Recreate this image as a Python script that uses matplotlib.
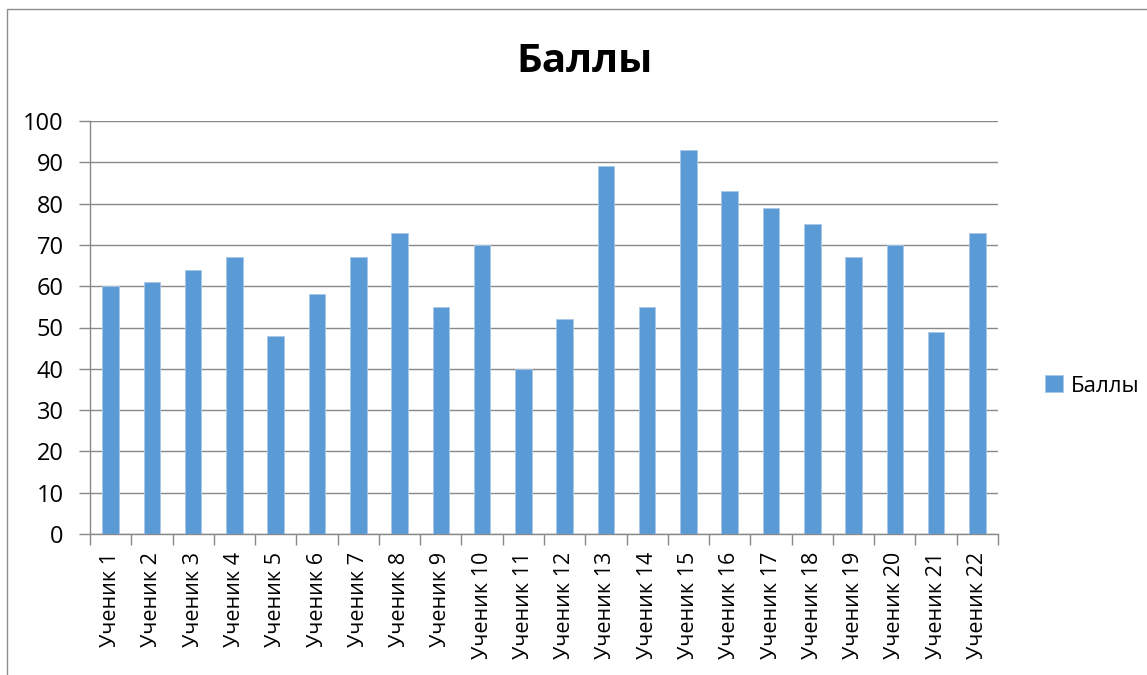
import matplotlib
matplotlib.use("Agg")
import matplotlib.pyplot as plt
import matplotlib.patches as mpatches

# ── data ──────────────────────────────────────────────────────────────────────
students = [f"Ученик {i}" for i in range(1, 23)]
scores = [60, 61, 64, 67, 48, 58, 67, 73, 55, 70, 40,
          52, 89, 55, 93, 83, 79, 75, 67, 70, 49, 73]
y_ticks = [0, 10, 20, 30, 40, 50, 60, 70, 80, 90, 100]
title = "Баллы"
series_name = "Баллы"

BAR = "#5B9BD5"
GRID = "#898989"

plt.rcParams["font.family"] = ["Open Sans", "DejaVu Sans"]

W, H = 1147, 675
fig = plt.figure(figsize=(W / 100, H / 100), dpi=100)

# chart frame (grey border, Excel style)
fig.patches.append(mpatches.Rectangle(
    (7 / W, -0.1), 1.2, (H - 9) / H + 0.1, transform=fig.transFigure,
    fill=False, edgecolor="#8c8c8c", linewidth=1.0, zorder=0))

ax = fig.add_axes([90 / W, (H - 534) / H, (998 - 90) / W, (534 - 121) / H])

x = list(range(len(students)))
ax.bar(x, scores, width=0.4, color=BAR, edgecolor="#a9c8ea",
       linewidth=0.6, zorder=3, label=series_name)

ax.set_xlim(-0.5, len(students) - 0.5)
ax.set_ylim(0, 100)
ax.set_yticks(y_ticks)
ax.set_yticklabels([str(v) for v in y_ticks], fontsize=17)
ax.yaxis.grid(True, color=GRID, linewidth=1.0, zorder=0)
ax.set_axisbelow(True)

ax.set_xticks(x)
ax.set_xticklabels(students, rotation=90, fontsize=15.5)
ax.set_xticks([i - 0.5 for i in range(len(students) + 1)], minor=True)
ax.tick_params(axis="x", which="major", length=0, pad=13)
ax.tick_params(axis="x", which="minor", length=8, color=GRID, width=1.0,
               direction="out")
ax.tick_params(axis="y", length=8, color=GRID, width=1.0, pad=11)

for side in ("top", "right"):
    ax.spines[side].set_visible(False)
for side in ("left", "bottom"):
    ax.spines[side].set_color(GRID)
    ax.spines[side].set_linewidth(1.0)

fig.text(585 / W, 1 - 62 / H, title, ha="center", va="center",
         fontsize=29, fontweight="bold")

fig.legend(loc="center left", bbox_to_anchor=(1036 / W, 1 - 386 / H),
           frameon=False, fontsize=16, handlelength=0.8, handleheight=0.8,
           handletextpad=0.35, borderaxespad=0)

fig.savefig("out.png", dpi=100)
